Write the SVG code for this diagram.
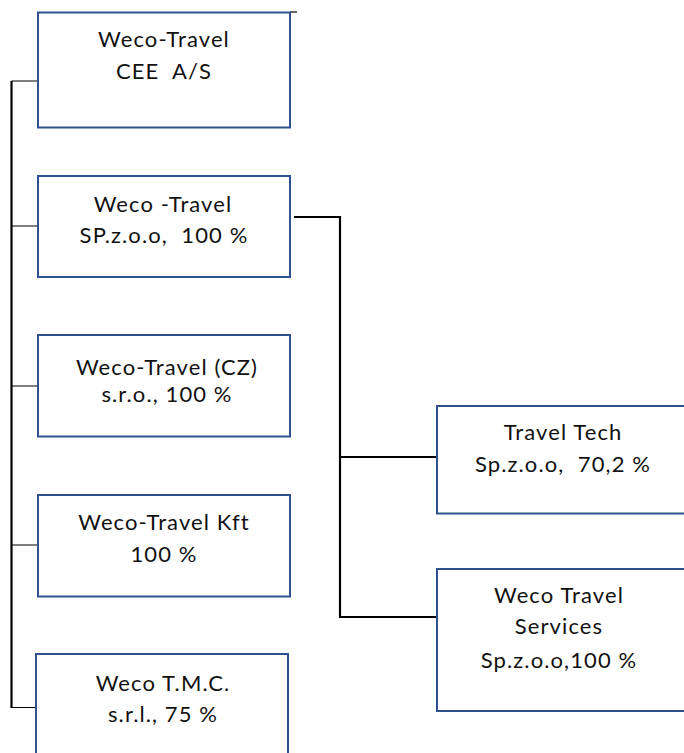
<svg xmlns="http://www.w3.org/2000/svg" width="684" height="753" viewBox="0 0 684 753">
<style>
.box{fill:#fff;stroke:#2f528f;stroke-width:2}
.t{font-family:Lato,"Liberation Sans",sans-serif;font-size:22px;letter-spacing:1.1px;fill:#111;text-anchor:middle;white-space:pre}
.c{fill:none;stroke:#000}
.thin{stroke-width:1.2}
.thick{stroke-width:2.2}
</style>
<rect width="684" height="753" fill="#fff"/>
<g id="connectors">
<path class="c thick" d="M11.5,81 V708"/>
<path class="c thin" d="M11.5,81 H38 M11.5,226 H38 M11.5,386 H38 M11.5,545 H38 M11.5,707.5 H36"/>
<path class="c thin" d="M290,12 H297"/>
<path class="c thick" d="M294,217 H340 V617 H437 M340,457 H437"/>
</g>
<g id="n1"><rect class="box" x="38" y="12.5" width="252" height="115"/>
<text class="t" x="164" y="47">Weco-Travel</text><text class="t" x="164" y="79" xml:space="preserve">CEE  A/S</text></g>
<g id="n2"><rect class="box" x="38" y="176" width="252" height="101"/>
<text class="t" x="163" y="212">Weco -Travel</text><text class="t" x="164" y="243" xml:space="preserve">SP.z.o.o,  100 %</text></g>
<g id="n3"><rect class="box" x="38" y="335" width="252" height="101.5"/>
<text class="t" x="167" y="375">Weco-Travel (CZ)</text><text class="t" x="167" y="402">s.r.o., 100 %</text></g>
<g id="n4"><rect class="box" x="38" y="495" width="252" height="101.5"/>
<text class="t" x="164" y="530">Weco-Travel Kft</text><text class="t" x="164" y="562">100 %</text></g>
<g id="n5"><rect class="box" x="36" y="654" width="252" height="110"/>
<text class="t" x="163" y="691">Weco T.M.C.</text><text class="t" x="163" y="722">s.r.l., 75 %</text></g>
<g id="n6"><rect class="box" x="437" y="406" width="260" height="107.5"/>
<text class="t" x="563" y="440">Travel Tech</text><text class="t" x="563" y="472" xml:space="preserve">Sp.z.o.o,  70,2 %</text></g>
<g id="n7"><rect class="box" x="437" y="569" width="260" height="142"/>
<text class="t" x="559" y="603">Weco Travel</text><text class="t" x="559" y="634">Services</text><text class="t" x="559" y="668">Sp.z.o.o,100 %</text></g>
</svg>
